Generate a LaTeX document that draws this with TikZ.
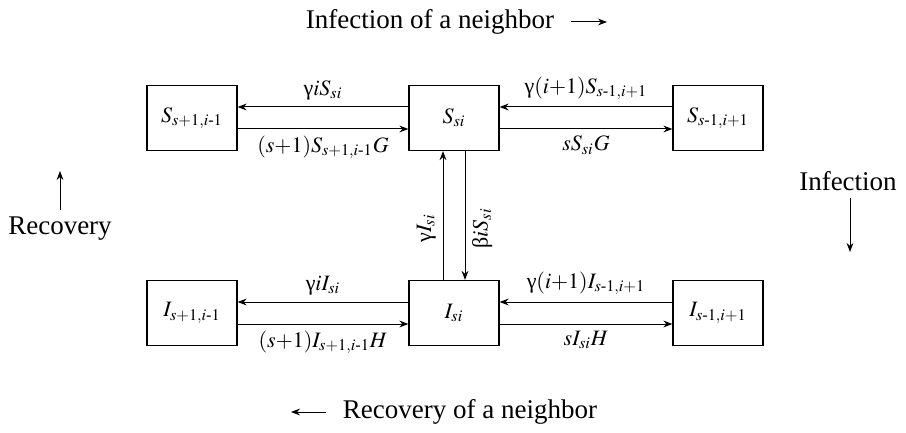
\documentclass[tikz,border=0pt]{standalone}
\usepackage{amsmath}
\usepackage{mathptmx}
\usepackage{fontspec}
\setmainfont{Liberation Serif}
\usepackage{tikz}
\usetikzlibrary{arrows.meta}
\newcommand{\rgamma}{\text{γ}}
\newcommand{\rbeta}{\text{β}}

\begin{document}
\begin{tikzpicture}[x=0.5pt,y=-0.5pt,
  font=\fontsize{13.5}{16}\selectfont,
  state/.style={draw,line width=0.6pt,minimum width=45pt,minimum height=32.5pt,inner sep=0pt,font=\fontsize{11}{13}\selectfont},
  rate/.style={font=\fontsize{11}{13}\selectfont},
  flow/.style={line width=0.5pt,-{Stealth[length=4.5pt,width=3.4pt]}}]
\useasboundingbox (0,0) rectangle (906,433);
% Susceptible
\node[state] (Sl) at (192,118) {$S_{s{+}1,i\text{-}1}$};
\node[state] (S) at (454,118) {$S_{si}$};
\node[state] (Sr) at (718,118) {$S_{s\text{-}1,i{+}1}$};
% Infected
\node[state] (Il) at (192,313) {$I_{s{+}1,i\text{-}1}$};
\node[state] (I) at (454,313) {$I_{si}$};
\node[state] (Ir) at (718,313) {$I_{s\text{-}1,i{+}1}$};
% top row
\draw[flow] ([yshift=5.5pt]S.west) -- ([yshift=5.5pt]Sl.east) node[rate,midway,above] {$\rgamma iS_{si}$};
\draw[flow] ([yshift=-5.5pt]Sl.east) -- ([yshift=-5.5pt]S.west) node[rate,midway,below] {$(s{+}1)S_{s{+}1,i\text{-}1}G$};
\draw[flow] ([yshift=5.5pt]Sr.west) -- ([yshift=5.5pt]S.east) node[rate,midway,above] {$\rgamma(i{+}1)S_{s\text{-}1,i{+}1}$};
\draw[flow] ([yshift=-5.5pt]S.east) -- ([yshift=-5.5pt]Sr.west) node[rate,midway,below] {$sS_{si}G$};
% bottom row
\draw[flow] ([yshift=5.5pt]I.west) -- ([yshift=5.5pt]Il.east) node[rate,midway,above] {$\rgamma iI_{si}$};
\draw[flow] ([yshift=-5.5pt]Il.east) -- ([yshift=-5.5pt]I.west) node[rate,midway,below] {$(s{+}1)I_{s{+}1,i\text{-}1}H$};
\draw[flow] ([yshift=5.5pt]Ir.west) -- ([yshift=5.5pt]I.east) node[rate,midway,above] {$\rgamma(i{+}1)I_{s\text{-}1,i{+}1}$};
\draw[flow] ([yshift=-5.5pt]I.east) -- ([yshift=-5.5pt]Ir.west) node[rate,midway,below] {$sI_{si}H$};
% between the rows
\draw[flow] ([xshift=-5.5pt]I.north) -- ([xshift=-5.5pt]S.south) node[rate,pos=0.4,rotate=90,anchor=south] {$\rgamma I_{si}$};
\draw[flow] ([xshift=5.5pt]S.south) -- ([xshift=5.5pt]I.north) node[rate,pos=0.6,rotate=90,anchor=north] {$\rbeta iS_{si}$};
% side texts
\node (rec) at (60,229) {Recovery};
\coordinate (recTop) at (60,171);
\draw[flow] (rec.north) -- (recTop);
\node (inf) at (848,181) {Infection};
\coordinate (infBot) at (850,252);
\draw[flow] ([xshift=1pt]inf.south) -- ([xshift=1pt]inf.south |- infBot);
\node (nbInf) at (430,22) {Infection of a neighbor};
\coordinate (nbInfEnd) at (607,22);
\draw[flow] ([xshift=5pt]nbInf.east) -- (nbInfEnd);
\node (nbRec) at (470,412) {Recovery of a neighbor};
\coordinate (nbRecEnd) at (291,412);
\draw[flow] ([xshift=-5pt]nbRec.west) -- (nbRecEnd);
\end{tikzpicture}
\end{document}
